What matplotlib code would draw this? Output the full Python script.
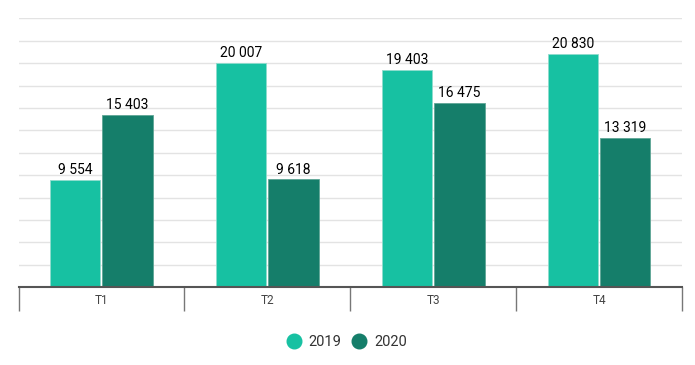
import matplotlib
matplotlib.use("Agg")
import matplotlib.pyplot as plt
from matplotlib.lines import Line2D
import numpy as np

plt.rcParams['font.family'] = ['Roboto', 'DejaVu Sans']

categories = ["T1", "T2", "T3", "T4"]
series_names = ["2019", "2020"]
values_2019 = [9554, 20007, 19403, 20830]
values_2020 = [15403, 9618, 16475, 13319]
colors = ["#17C1A2", "#157E6A"]

def fmt(v):
    return f"{v:,}".replace(",", " ")

fig = plt.figure(figsize=(6.95, 3.65), dpi=100)
ax = fig.add_axes([18.5/695, 1 - 287.3/365, (682 - 18.5)/695, (287.3 - 18.3)/365])

x = np.arange(len(categories))
w = 0.304
off = 0.158
for vals, dx, c in [(values_2019, -off, colors[0]), (values_2020, off, colors[1])]:
    ax.bar(x + dx, vals, width=w, color=c, edgecolor="#8fdccd" if c == colors[0] else "#5fa595",
           linewidth=0.6, zorder=3)
    for xi, v in zip(x + dx, vals):
        ax.annotate(fmt(v), (xi, v), xytext=(0, 2), textcoords="offset points",
                    ha="center", va="bottom", fontsize=10, color="#000000", zorder=4)

ax.set_xlim(-0.5, 3.5)
ax.set_ylim(0, 24000)
ax.set_yticks(np.arange(0, 24001, 2000))
ax.yaxis.grid(True, color="#e3e3e3", linewidth=1.0, zorder=0)
ax.tick_params(axis="y", length=0, labelleft=False)
for s in ["top", "right", "left"]:
    ax.spines[s].set_visible(False)
ax.spines["bottom"].set_color("#555555")
ax.spines["bottom"].set_linewidth(1.5)
ax.spines["bottom"].set_zorder(5)

ax.set_xticks(x)
ax.set_xticklabels(categories, fontsize=8.5, color="#444444")
ax.tick_params(axis="x", which="major", length=0, pad=4.5)
ax.set_xticks(np.arange(-0.5, 3.6, 1.0), minor=True)
ax.tick_params(axis="x", which="minor", length=17, width=1, color="#777777")

handles = [Line2D([0], [0], marker="o", linestyle="none", markersize=10.5,
                  markerfacecolor=c, markeredgecolor=c) for c in colors]
fig.legend(handles, series_names, loc="center", bbox_to_anchor=(0.4975, 1 - 342/365),
           ncol=2, frameon=False, fontsize=10.5, handletextpad=0.4, columnspacing=0.65,
           labelcolor="#333333", handlelength=1.2)

fig.savefig("out.png", dpi=100, facecolor="white")
